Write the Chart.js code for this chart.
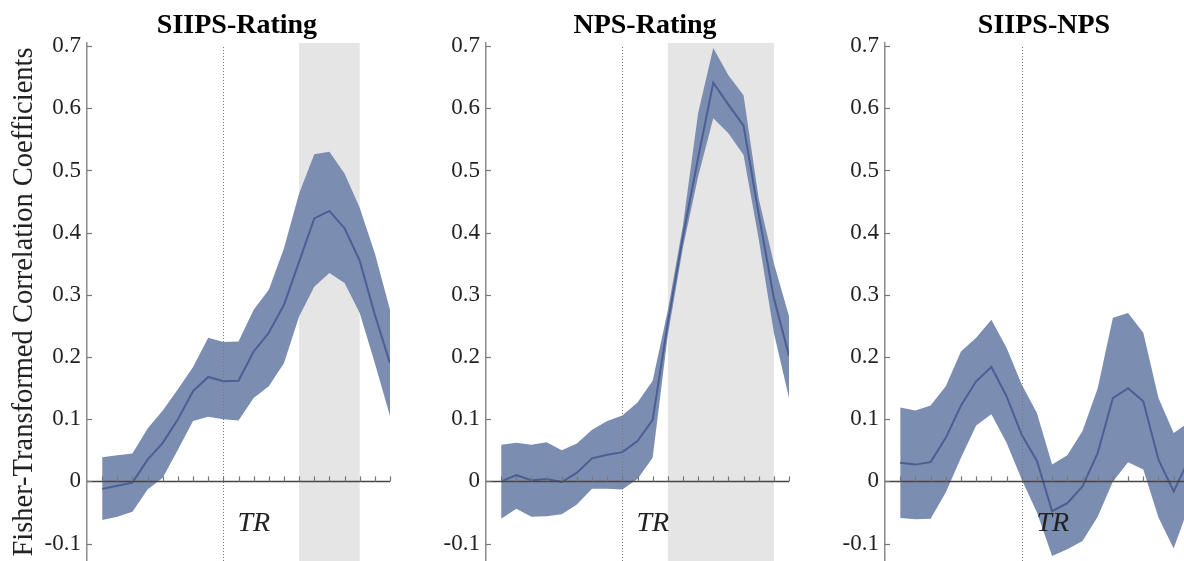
<!DOCTYPE html>
<html>
<head>
<meta charset="utf-8">
<script src="https://cdn.jsdelivr.net/npm/chart.js@4.4.0/dist/chart.umd.min.js"></script>
<style>
  body { margin: 0; background: #fff; }
  #wrap { position: relative; width: 1184px; height: 561px; overflow: hidden; }
  canvas { position: absolute; top: 0; }
  .title {
    position: absolute; top: 10px; width: 300px; text-align: center;
    font: bold 28px "Liberation Serif", "Times New Roman", serif;
    line-height: 28px; color: #000;
  }
</style>
</head>
<body>
<div id="wrap">
  <canvas id="siips-rating" width="392" height="561" style="left:0"></canvas>
  <canvas id="nps-rating" width="391" height="561" style="left:400px"></canvas>
  <canvas id="siips-nps" width="384" height="561" style="left:800px"></canvas>
  <div class="title" style="left:87px">SIIPS-Rating</div>
  <div class="title" style="left:495px">NPS-Rating</div>
  <div class="title" style="left:894px">SIIPS-NPS</div>
</div>
<script>
const steps = [1, 2, 3, 4, 5, 6, 7, 8, 9, 10, 11, 12, 13, 14, 15, 16, 17, 18, 19, 20];
const yTicks = [-0.1, 0, 0.1, 0.2, 0.3, 0.4, 0.5, 0.6, 0.7];
const trStep = 9;

// SIIPS-Rating
const siipsRatingMean = [-0.012, -0.007, -0.002, 0.035, 0.062, 0.1, 0.145, 0.168, 0.161, 0.162,
  0.209, 0.239, 0.284, 0.353, 0.423, 0.435, 0.407, 0.355, 0.268, 0.19];
const siipsRatingUpper = [0.039, 0.042, 0.045, 0.085, 0.114, 0.148, 0.184, 0.231, 0.224, 0.225,
  0.276, 0.308, 0.375, 0.463, 0.526, 0.53, 0.495, 0.44, 0.367, 0.276];
const siipsRatingLower = [-0.062, -0.057, -0.049, -0.013, 0.006, 0.051, 0.097, 0.104, 0.1, 0.098,
  0.134, 0.153, 0.19, 0.265, 0.313, 0.335, 0.319, 0.271, 0.19, 0.105];
const siipsRatingWindow = [14, 18];

// NPS-Rating
const npsRatingMean = [0.0, 0.01, 0.002, 0.004, -0.001, 0.014, 0.037, 0.043, 0.047, 0.065,
  0.099, 0.255, 0.394, 0.52, 0.641, 0.606, 0.572, 0.43, 0.295, 0.202];
const npsRatingUpper = [0.059, 0.062, 0.059, 0.063, 0.05, 0.061, 0.083, 0.097, 0.106, 0.127,
  0.162, 0.275, 0.412, 0.592, 0.697, 0.653, 0.621, 0.455, 0.351, 0.266];
const npsRatingLower = [-0.06, -0.044, -0.057, -0.056, -0.053, -0.037, -0.012, -0.012, -0.013, 0.004,
  0.038, 0.235, 0.376, 0.49, 0.584, 0.56, 0.525, 0.39, 0.239, 0.134];
const npsRatingWindow = [12, 19];

// SIIPS-NPS
const siipsNpsMean = [0.03, 0.027, 0.031, 0.07, 0.122, 0.161, 0.184, 0.137, 0.075, 0.033,
  -0.048, -0.035, -0.008, 0.046, 0.134, 0.15, 0.129, 0.035, -0.016, 0.035];
const siipsNpsUpper = [0.119, 0.114, 0.122, 0.153, 0.209, 0.231, 0.26, 0.215, 0.156, 0.11,
  0.027, 0.042, 0.081, 0.15, 0.263, 0.271, 0.239, 0.134, 0.078, 0.095];
const siipsNpsLower = [-0.059, -0.061, -0.06, -0.018, 0.038, 0.09, 0.108, 0.062, 0.003, -0.05,
  -0.12, -0.109, -0.096, -0.057, 0.0, 0.031, 0.019, -0.058, -0.108, -0.04];

const BAND = "#7c8db2";
const LINE = "#4b5f92";
const SERIF = '"Liberation Serif", "Times New Roman", serif';

const toPoints = (vals) => steps.map((s, i) => ({ x: s, y: vals[i] }));

// grey window, TR line, zero axis with ticks, TR label
const decor = {
  id: "decor",
  beforeDatasetsDraw(chart, args, opts) {
    if (!opts.window) return;
    const { ctx, chartArea } = chart;
    const x = chart.scales.x;
    const x1 = x.getPixelForValue(opts.window[0]);
    const x2 = x.getPixelForValue(opts.window[1]);
    ctx.save();
    ctx.fillStyle = "#e5e5e5";
    ctx.fillRect(x1, chartArea.top, x2 - x1, chartArea.bottom - chartArea.top);
    ctx.restore();
  },
  afterDatasetsDraw(chart) {
    const { ctx, chartArea } = chart;
    const x = chart.scales.x;
    const y = chart.scales.y;
    const y0 = y.getPixelForValue(0);
    const xt = Math.round(x.getPixelForValue(trStep)) + 0.5;
    ctx.save();
    ctx.strokeStyle = "#777";
    ctx.lineWidth = 1;
    ctx.setLineDash([1, 2]);
    ctx.beginPath();
    ctx.moveTo(xt, chartArea.top + 4);
    ctx.lineTo(xt, chartArea.bottom);
    ctx.stroke();
    ctx.setLineDash([]);

    ctx.strokeStyle = "#444";
    ctx.lineWidth = 1.5;
    ctx.beginPath();
    ctx.moveTo(chartArea.left, y0);
    ctx.lineTo(chartArea.right, y0);
    ctx.stroke();

    ctx.strokeStyle = "#777";
    ctx.lineWidth = 1.2;
    steps.forEach((s) => {
      const px = Math.round(x.getPixelForValue(s)) + 0.5;
      ctx.beginPath();
      ctx.moveTo(px, y0);
      ctx.lineTo(px, y0 - 5);
      ctx.stroke();
    });
    yTicks.forEach((v) => {
      const py = Math.round(y.getPixelForValue(v)) + 0.5;
      ctx.beginPath();
      ctx.moveTo(chartArea.left, py);
      ctx.lineTo(chartArea.left + 5, py);
      ctx.stroke();
    });

    ctx.fillStyle = "#222";
    ctx.font = "italic 28px " + SERIF;
    ctx.textBaseline = "alphabetic";
    ctx.fillText("TR", xt + 14, y0 + 50);
    ctx.restore();
  },
};

function makeChart(canvasId, mean, upper, lower, window, xMax, axisWidth, padRight, showTitle) {
  const ctx = document.getElementById(canvasId).getContext("2d");
  new Chart(ctx, {
    type: "line",
    data: {
      datasets: [
        { data: toPoints(mean), borderColor: LINE, borderWidth: 2, pointRadius: 0, fill: false, tension: 0 },
        { data: toPoints(upper), borderWidth: 0, borderColor: "rgba(0,0,0,0)", backgroundColor: BAND, pointRadius: 0, fill: "+1" },
        { data: toPoints(lower), borderWidth: 0, borderColor: "rgba(0,0,0,0)", pointRadius: 0, fill: false },
      ],
    },
    options: {
      responsive: false,
      animation: false,
      layout: { padding: { top: 43, right: padRight, left: 0, bottom: 0 } },
      plugins: {
        legend: { display: false },
        tooltip: { enabled: false },
        decor: { window: window },
      },
      scales: {
        x: { type: "linear", display: false, min: 0, max: xMax },
        y: {
          min: -0.128,
          max: 0.705,
          afterBuildTicks: (s) => { s.ticks = yTicks.map((v) => ({ value: v })); },
          afterFit: (s) => { s.width = axisWidth; s.paddingTop = 0; s.paddingBottom = 0; },
          grid: { display: false, drawTicks: false },
          border: { display: true, color: "#8a8a8a", width: 1.5 },
          ticks: {
            padding: 6,
            color: "#222",
            font: { family: SERIF, size: 23 },
            callback: (v) => (v === 0 ? "0" : v.toFixed(1)),
          },
          title: {
            display: showTitle,
            text: "Fisher-Transformed Correlation Coefficients",
            color: "#222",
            font: { family: SERIF, size: 28.5 },
            padding: { top: 7, bottom: 0 },
          },
        },
      },
    },
    plugins: [decor],
  });
}

makeChart("siips-rating", siipsRatingMean, siipsRatingUpper, siipsRatingLower, siipsRatingWindow, 20, 87, 2, true);
makeChart("nps-rating", npsRatingMean, npsRatingUpper, npsRatingLower, npsRatingWindow, 20, 86, 2, false);
makeChart("siips-nps", siipsNpsMean, siipsNpsUpper, siipsNpsLower, null, 19.68, 85, 0, false);
</script>
</body>
</html>
